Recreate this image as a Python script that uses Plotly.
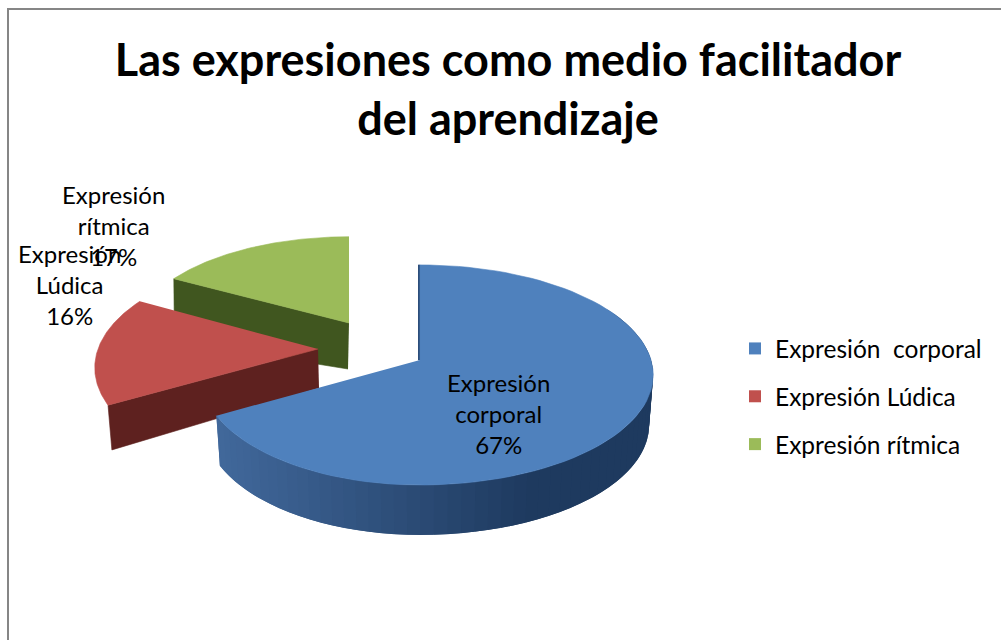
import numpy as np
import plotly.graph_objects as go

categories = ["Expresión  corporal", "Expresión Lúdica", "Expresión rítmica"]
values = [67, 16, 17]
percent_labels = ["67%", "16%", "17%"]
label_lines = [["Expresión", "corporal"], ["Expresión", "Lúdica"], ["Expresión", "rítmica"]]
top_colors = ["#4f81bd", "#c0504d", "#9bbb59"]
wall_colors = ["#1f3a5f", "#5e211f", "#40561f"]
title_lines = ["Las expresiones como medio facilitador", "del aprendizaje"]
label_positions = [(498, 413), (69, 284), (113, 225)]

FONT = "Lato, Carlito, Calibri, sans-serif"
# 3D look: apex x/y, radius, vertical radius, perspective, left-side squeeze
views = [
    dict(ax=420, ay=360, R=231, A=108, k=0.136, left=0.94),
    dict(ax=318, ay=349, R=220, A=107, k=0.17, left=1.0),
    dict(ax=349, ay=323, R=213, A=98, k=0.136, left=1.0),
]
lowers = [
    dict(ax=420, ay=410, R=227, A=108, k=0.136, left=0.94),
    dict(ax=319, ay=388, R=217, A=118, k=0.17, left=1.0),
    dict(ax=348, ay=369, R=211, A=62, k=0.136, left=1.0),
]


def rim(theta_deg, v):
    t = np.radians(np.asarray(theta_deg, dtype=float))
    den = 1 + v["k"] * np.cos(t)
    s = np.sin(t)
    x = v["ax"] + v["R"] * s / den * np.where(s < 0, v["left"], 1.0)
    y = v["ay"] - v["A"] * np.cos(t) / den
    return x, y


edges = np.concatenate([[0], np.cumsum(values)]) / sum(values) * 360.0
fig = go.Figure()


def poly(xs, ys, color, name=None, lw=0.6):
    fig.add_trace(go.Scatter(
        x=list(xs), y=list(ys), mode="lines", fill="toself", fillcolor=color,
        line=dict(color=color, width=lw), showlegend=False, hoverinfo="skip", name=name))


def blend(a, b, f):
    ca = [int(a[i:i + 2], 16) for i in (1, 3, 5)]
    cb = [int(b[i:i + 2], 16) for i in (1, 3, 5)]
    return "rgb(%d,%d,%d)" % tuple(round(p + (q - p) * f) for p, q in zip(ca, cb))


# back to front: green, red, blue
for i in (2, 1, 0):
    v, low = views[i], lowers[i]
    t0, t1 = edges[i], edges[i + 1]
    if i == 0:
        # curved outer wall, shaded along its length; each band overlaps the next
        steps = np.append(np.arange(60, t1, 3.0), t1)
        for a, b in zip(steps[:-1], steps[1:]):
            end = min(b + 3.0, t1)
            xa, ya = rim(np.linspace(a, end, 5), v)
            xb, yb = rim(np.linspace(end, a, 5), low)
            xm, _ = rim([(a + b) / 2], v)
            f = float(np.clip((xm[0] - 218) / (530 - 218), 0, 1))
            poly(list(xa) + list(xb), list(ya) + list(yb), blend("#41689b", "#1e3a5f", f), lw=0)
        # thin inner face beside the gap
        xs, ys = rim([t0], v)
        poly([xs[0] - 2, xs[0], v["ax"], v["ax"] - 2], [ys[0], ys[0], v["ay"], v["ay"]], "#2c4d7a")
    else:
        # flat cut face toward the viewer
        xr, yr = rim([t0], v)
        xl, yl = rim([t0], low)
        poly([v["ax"], xr[0], xl[0], low["ax"]], [v["ay"], yr[0], yl[0], low["ay"]], wall_colors[i])
    th = np.linspace(t0, t1, 90)
    x, y = rim(th, v)
    poly([v["ax"]] + list(x), [v["ay"]] + list(y), top_colors[i], categories[i])

# legend entries
for i, c in enumerate(categories):
    fig.add_trace(go.Scatter(
        x=[None], y=[None], mode="markers", name=c.replace("  ", " \u00a0"),
        legendgroup=c,
        marker=dict(symbol="square", size=15, color=top_colors[i]),
    ))

for i, (lx, ly) in enumerate(label_positions):
    fig.add_annotation(
        x=lx, y=ly, xref="x", yref="y", showarrow=False,
        text="<br>".join(label_lines[i] + [percent_labels[i]]),
        font=dict(family=FONT, size=24, color="#000000"), align="center",
    )

frame = dict(color="#868686", width=2)
fig.update_layout(
    width=1001, height=640, margin=dict(l=0, r=0, t=0, b=0),
    paper_bgcolor="#ffffff", plot_bgcolor="#ffffff",
    title=dict(
        text="<br>".join(title_lines), x=508 / 1001, y=1 - 76 / 640,
        xanchor="center", yanchor="middle", xref="paper", yref="paper",
        font=dict(family=FONT, size=45, color="#000000", weight="bold"),
    ),
    xaxis=dict(range=[0, 1001], visible=False, fixedrange=True),
    yaxis=dict(range=[640, 0], visible=False, fixedrange=True),
    legend=dict(
        x=735 / 1001, y=1 - 326 / 640, xanchor="left", yanchor="top",
        font=dict(family=FONT, size=24.5, color="#000000"),
        tracegroupgap=13, itemsizing="constant", bgcolor="rgba(0,0,0,0)",
    ),
    shapes=[
        dict(type="line", xref="x", yref="y", x0=8, x1=1001, y0=9, y1=9, line=frame),
        dict(type="line", xref="x", yref="y", x0=8, x1=8, y0=8, y1=640, line=frame),
    ],
    showlegend=True,
)
fig.write_html("out.html", config={"displayModeBar": False},
               post_script="document.body.style.margin='0';")
